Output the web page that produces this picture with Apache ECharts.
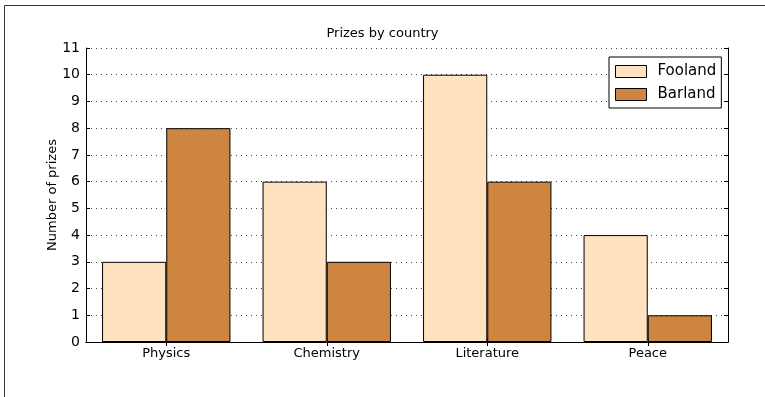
<!DOCTYPE html>
<html>
<head>
<meta charset="utf-8">
<script src="https://cdn.jsdelivr.net/npm/echarts@6/dist/echarts.min.js"></script>
<style>html,body{margin:0;padding:0;background:#fff}#c{width:765px;height:397px}</style>
</head>
<body>
<div id="c"></div>
<script>
const categories = ['Physics', 'Chemistry', 'Literature', 'Peace'];
const fooland = [3, 6, 10, 4];
const barland = [8, 3, 6, 1];
const yTicks = [0, 11, 1];

const font = 'DejaVu Sans';
const chart = echarts.init(document.getElementById('c'));
const tickStyle = {show: true, inside: true, length: 4, lineStyle: {color: '#000', width: 1}};
chart.setOption({
  animation: false,
  textStyle: {fontFamily: font},
  graphic: [{type: 'rect', shape: {x: 4.5, y: 5.5, width: 900, height: 500}, style: {fill: null, stroke: '#333', lineWidth: 1}, silent: true, z: -10}],
  title: {text: 'Prizes by country', left: 'center', top: 22, textStyle: {fontFamily: font, fontSize: 13, fontWeight: 'normal', color: '#000'}},
  legend: {
    left: 609, top: 57, orient: 'vertical', itemWidth: 31, itemHeight: 12, itemGap: 8, icon: 'rect',
    padding: [7, 5, 6, 6], backgroundColor: '#fff', borderColor: '#000', borderWidth: 1, borderRadius: 0,
    textStyle: {fontFamily: font, fontSize: 15, color: '#000', padding: [0, 0, 0, 6]},
    data: [{name: 'Fooland', itemStyle: {borderColor: '#000', borderWidth: 1}}, {name: 'Barland', itemStyle: {borderColor: '#000', borderWidth: 1}}]
  },
  grid: {left: 86, right: 37, top: 48, bottom: 55},
  xAxis: [{
    type: 'category', data: categories, position: 'bottom',
    axisLine: {show: true, lineStyle: {color: '#000', width: 1}},
    axisTick: Object.assign({alignWithLabel: true}, tickStyle),
    axisLabel: {fontFamily: font, fontSize: 13, color: '#000', margin: 5},
    splitLine: {show: false}
  }, {
    type: 'category', data: categories, position: 'top',
    axisLine: {show: true, lineStyle: {color: '#000', width: 1}},
    axisTick: Object.assign({alignWithLabel: true}, tickStyle),
    axisLabel: {show: false}, splitLine: {show: false}
  }],
  yAxis: [{
    type: 'value', min: yTicks[0], max: yTicks[1], interval: yTicks[2], position: 'left',
    name: 'Number of prizes', nameLocation: 'middle', nameGap: 27, nameMoveOverlap: false,
    nameTextStyle: {fontFamily: font, fontSize: 13, color: '#000'},
    axisLine: {show: true, lineStyle: {color: '#000', width: 1}},
    axisTick: tickStyle,
    axisLabel: {fontFamily: font, fontSize: 14, color: '#000', margin: 6},
    splitLine: {show: true, lineStyle: {color: '#444', type: [1, 4], width: 1}}
  }, {
    type: 'value', min: yTicks[0], max: yTicks[1], interval: yTicks[2], position: 'right',
    axisLine: {show: true, lineStyle: {color: '#000', width: 1}},
    axisTick: tickStyle, axisLabel: {show: false}, splitLine: {show: false}
  }],
  series: [{
    name: 'Fooland', type: 'bar', data: fooland, barWidth: '40%', barGap: '0%',
    itemStyle: {color: '#FFE2C0', borderColor: '#000', borderWidth: 1}
  }, {
    name: 'Barland', type: 'bar', data: barland, barWidth: '40%', barGap: '0%',
    itemStyle: {color: '#CD853F', borderColor: '#000', borderWidth: 1}
  }]
});
</script>
</body>
</html>
